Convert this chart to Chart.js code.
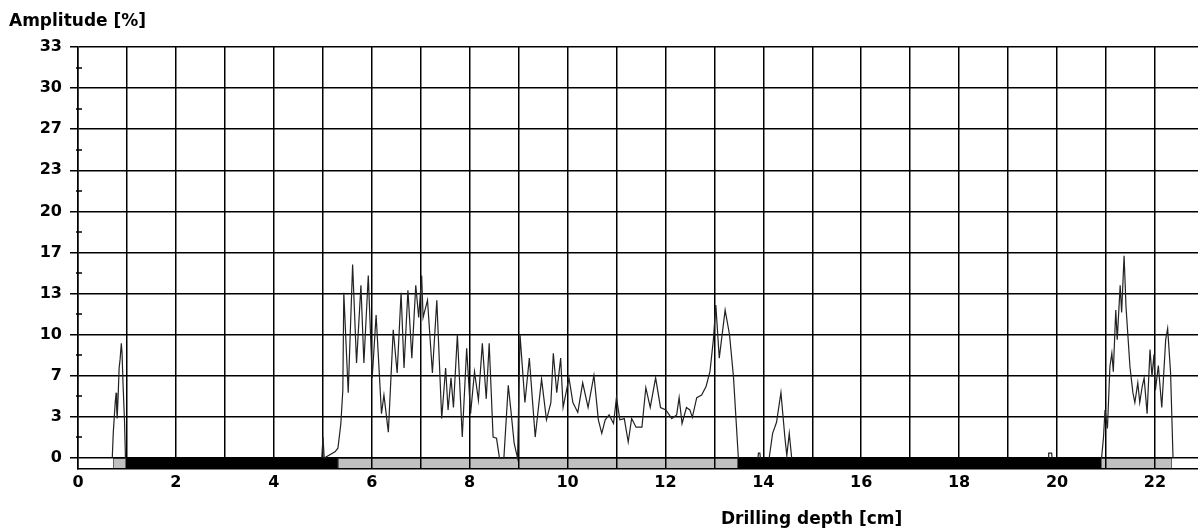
<!DOCTYPE html>
<html>
<head>
<meta charset="utf-8">
<script src="https://cdn.jsdelivr.net/npm/chart.js@4/dist/chart.umd.min.js"></script>
<style>
html,body{margin:0;padding:0;background:#fff;}
#wrap{width:1198px;height:531px;position:relative;}
</style>
</head>
<body>
<div id="wrap"><canvas id="c" width="1198" height="531"></canvas></div>
<script>
// ---- data ----
const depth = [
  0.70,0.72,0.76,0.78,0.79,0.80,0.82,0.84,0.86,0.885,0.90,0.92,0.95,0.97,
  2.0,
  4.98,5.005,5.03,5.25,5.31,5.37,5.41,5.43,5.52,5.61,5.69,5.78,5.84,5.93,6.01,6.09,6.20,6.25,6.34,6.44,6.52,6.60,6.66,6.74,6.82,6.90,6.96,7.02,7.05,7.14,7.24,7.33,7.43,7.51,7.56,7.62,7.67,7.75,7.85,7.94,8.02,8.10,8.18,8.26,8.34,8.40,8.48,8.55,8.61,8.70,8.79,8.85,8.91,8.95,8.98,9.03,9.13,9.22,9.34,9.47,9.57,9.66,9.71,9.78,9.86,9.91,10.03,10.11,10.21,10.31,10.42,10.54,10.63,10.70,10.77,10.85,10.94,11.00,11.07,11.16,11.24,11.31,11.40,11.52,11.60,11.69,11.80,11.90,12.01,12.13,12.23,12.28,12.34,12.43,12.50,12.55,12.64,12.74,12.83,12.91,12.98,13.03,13.10,13.22,13.31,13.39,13.49,
  13.7,
  13.89,13.90,13.93,13.94,
  14.0,
  14.12,14.19,14.27,14.36,14.44,14.48,14.53,14.58,
  17.0,
  19.82,19.83,19.89,19.90,
  20.5,
  20.91,20.95,20.98,21.03,21.08,21.12,21.15,21.20,21.23,21.29,21.32,21.37,21.41,21.49,21.55,21.59,21.65,21.69,21.74,21.78,21.84,21.90,21.94,21.98,22.01,22.07,22.14,22.22,22.26,22.32,22.37
];
const amplitude = [
  0,2.0,4.5,5.3,4.0,3.2,5.0,7.3,8.0,9.3,8.5,6.0,3.0,0,
  null,
  0,1.7,0,0.5,0.8,2.8,5.5,13.4,5.3,15.7,7.7,14.0,7.7,14.8,6.5,11.6,3.6,5.1,2.1,10.4,6.9,13.4,7.3,13.6,8.1,14.0,11.4,14.8,11.4,12.8,6.9,12.8,3.2,7.3,3.9,6.5,4.1,10.0,1.7,8.9,3.6,7.0,4.7,9.3,4.8,9.3,1.7,1.6,0,0,5.9,3.6,1.2,0.5,0,10.0,4.5,8.1,1.7,6.4,3.1,4.5,8.5,5.3,8.1,4.1,6.5,4.5,3.7,6.1,4.1,6.7,3.1,2.0,3.1,3.5,2.8,4.9,3.1,3.2,1.3,3.2,2.5,2.5,5.7,4.1,6.5,4.1,3.9,3.2,3.5,4.9,2.8,4.1,3.9,3.3,4.9,5.1,5.8,7.0,9.6,12.4,8.1,12.0,10.0,6.6,0,
  null,
  0,0.4,0.4,0,
  null,
  0,2.0,2.9,5.3,1.7,0.2,2.0,0,
  null,
  0,0.4,0.4,0,
  null,
  0,1.7,3.9,2.4,7.4,8.5,7.0,12.0,9.6,14.0,11.8,16.4,12.2,7.4,5.3,4.5,6.1,4.5,5.8,6.5,3.6,8.8,6.6,8.4,5.5,7.5,4.1,9.6,10.5,6.9,0
];
// bottom band segments (depth from / to, kind)
const bandFrom = [0.715, 0.98, 5.31, 13.48, 20.9];
const bandTo   = [0.98, 5.31, 13.48, 20.9, 22.35];
const bandKind = ['gray','black','gray','black','gray'];
const yTickValues = [0,10/3,20/3,10,40/3,50/3,20,70/3,80/3,30,100/3];
const xTickValues = [0,1,2,3,4,5,6,7,8,9,10,11,12,13,14,15,16,17,18,19,20,21,22];

const points = depth.map((d,i)=>({x:d,y:amplitude[i]}));
const FONT = 'DejaVu Sans';

const deco = {
  id:'deco',
  beforeDraw(chart){
    const ctx = chart.ctx, xs = chart.scales.x, ys = chart.scales.y;
    ctx.save();
    ctx.fillStyle='#fff'; ctx.fillRect(0,0,chart.width,chart.height);
    const yTop = ys.getPixelForValue(0), yBot = chart.chartArea.bottom;
    for(let i=0;i<bandFrom.length;i++){
      const x0 = xs.getPixelForValue(bandFrom[i]), x1 = xs.getPixelForValue(bandTo[i]);
      ctx.fillStyle = bandKind[i]==='black' ? '#000' : '#c0c0c0';
      ctx.fillRect(x0, yTop, x1-x0, yBot-yTop);
      if(bandKind[i]==='gray'){
        ctx.strokeStyle='#666'; ctx.lineWidth=1;
        ctx.strokeRect(Math.round(x0)+0.5, Math.round(yTop)+0.5, Math.round(x1-x0)-1, Math.round(yBot-yTop)-1);
      }
    }
    ctx.restore();
  },
  afterDraw(chart){
    const ctx = chart.ctx, ys = chart.scales.y;
    const left = chart.chartArea.left;
    ctx.save();
    ctx.strokeStyle='#000'; ctx.lineWidth=1.5;
    for(let i=0;i<yTickValues.length-1;i++){
      const v=(yTickValues[i]+yTickValues[i+1])/2;
      const y=Math.round(ys.getPixelForValue(v));
      ctx.beginPath(); ctx.moveTo(left-2,y); ctx.lineTo(left+4,y); ctx.stroke();
    }
    ctx.fillStyle='#000';
    ctx.font='bold 17px "'+FONT+'"';
    ctx.textAlign='left'; ctx.textBaseline='alphabetic';
    ctx.fillText('Amplitude [%]', 9, 26);
    ctx.fillText('Drilling depth [cm]', 721, 524);
    ctx.restore();
  }
};

new Chart(document.getElementById('c'), {
  type:'line',
  data:{datasets:[{
    data:points, borderColor:'#222', borderWidth:1.2, pointRadius:0, tension:0, spanGaps:false, fill:false
  }]},
  options:{
    responsive:false, animation:false,
    layout:{padding:{top:47,left:0,right:0,bottom:0}},
    plugins:{legend:{display:false}, tooltip:{enabled:false}},
    scales:{
      x:{
        type:'linear', min:0, max:22.88,
        afterBuildTicks(s){ s.ticks = xTickValues.map(v=>({value:v})); },
        afterFit(s){ s.height = 62; },
        grid:{color:'#000', lineWidth:1.5, drawTicks:false, tickLength:0},
        border:{color:'#000', width:1.5},
        ticks:{autoSkip:false, maxRotation:0, padding:4, color:'#000',
          font:{family:FONT, weight:'bold', size:16},
          callback:(v)=> (Math.round(v)%2===0 ? String(Math.round(v)) : '')}
      },
      y:{
        type:'linear', min:-0.89, max:100/3,
        afterBuildTicks(s){ s.ticks = yTickValues.map(v=>({value:v})); },
        afterFit(s){ s.width = 78; },
        grid:{color:'#000', lineWidth:1.5, drawTicks:true, tickLength:8},
        border:{color:'#000', width:1.5},
        ticks:{padding:8, color:'#000', font:{family:FONT, weight:'bold', size:16},
          callback:(v)=> String(Math.round(v))}
      }
    }
  },
  plugins:[deco]
});
</script>
</body>
</html>
